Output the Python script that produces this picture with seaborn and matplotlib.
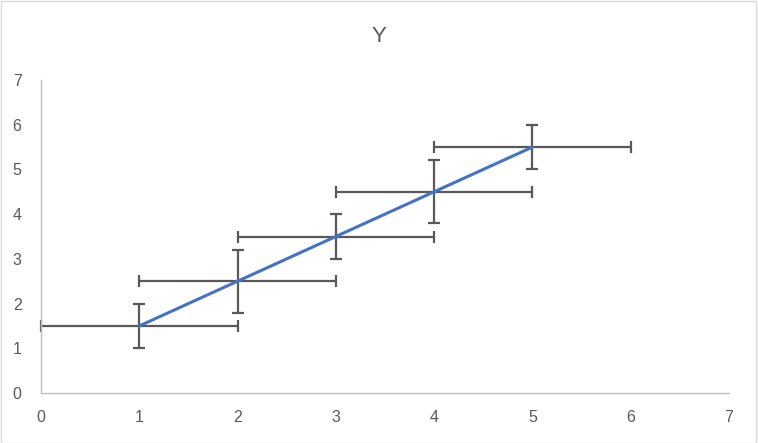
import numpy as np
import pandas as pd
import seaborn as sns
import matplotlib.pyplot as plt
from matplotlib.patches import Rectangle

# --- data ---
x_vals = [1, 2, 3, 4, 5]
y_vals = [1.5, 2.5, 3.5, 4.5, 5.5]
x_err = [1, 1, 1, 1, 1]
y_err = [0.5, 0.7, 0.5, 0.7, 0.5]
title = "Y"

df = pd.DataFrame({"x": x_vals, "y": y_vals})

sns.set_theme(style="white")
plt.rcParams['font.family'] = ['Liberation Sans', 'DejaVu Sans']

fig = plt.figure(figsize=(7.58, 4.43), dpi=100)
ax = fig.add_axes([41 / 758, 50 / 443, (729 - 41) / 758, (393 - 80) / 443])

grey = "#595959"

# error bars first so the line sits on top
ax.errorbar(df["x"], df["y"], xerr=x_err, yerr=y_err, fmt="none",
            ecolor=grey, elinewidth=1.6, capsize=4, capthick=1.6,
            clip_on=False, zorder=2)
sns.lineplot(data=df, x="x", y="y", ax=ax, color="#4472C4", linewidth=2.2,
             zorder=3, clip_on=False)

ax.set_xlim(0, 7)
ax.set_ylim(0, 7)
ax.set_xticks(range(0, 8))
ax.set_yticks(range(0, 8))
ax.set_xlabel("")
ax.set_ylabel("")

for side in ["top", "right"]:
    ax.spines[side].set_visible(False)
for side in ["left", "bottom"]:
    ax.spines[side].set_color("#BFBFBF")
    ax.spines[side].set_linewidth(1.0)

ax.tick_params(axis="both", length=0, labelsize=11.5, colors=grey)
ax.tick_params(axis="x", pad=12)
ax.tick_params(axis="y", pad=14)

fig.text(0.5, 1 - 37 / 443, title, ha="center", va="center",
         fontsize=16, color=grey)

# light border around the chart area
fig.patches.append(Rectangle((0.001, 0.001), 0.997, 0.997, transform=fig.transFigure,
                             fill=False, edgecolor="#D9D9D9", linewidth=1.0))

fig.savefig("out.png", dpi=100)
